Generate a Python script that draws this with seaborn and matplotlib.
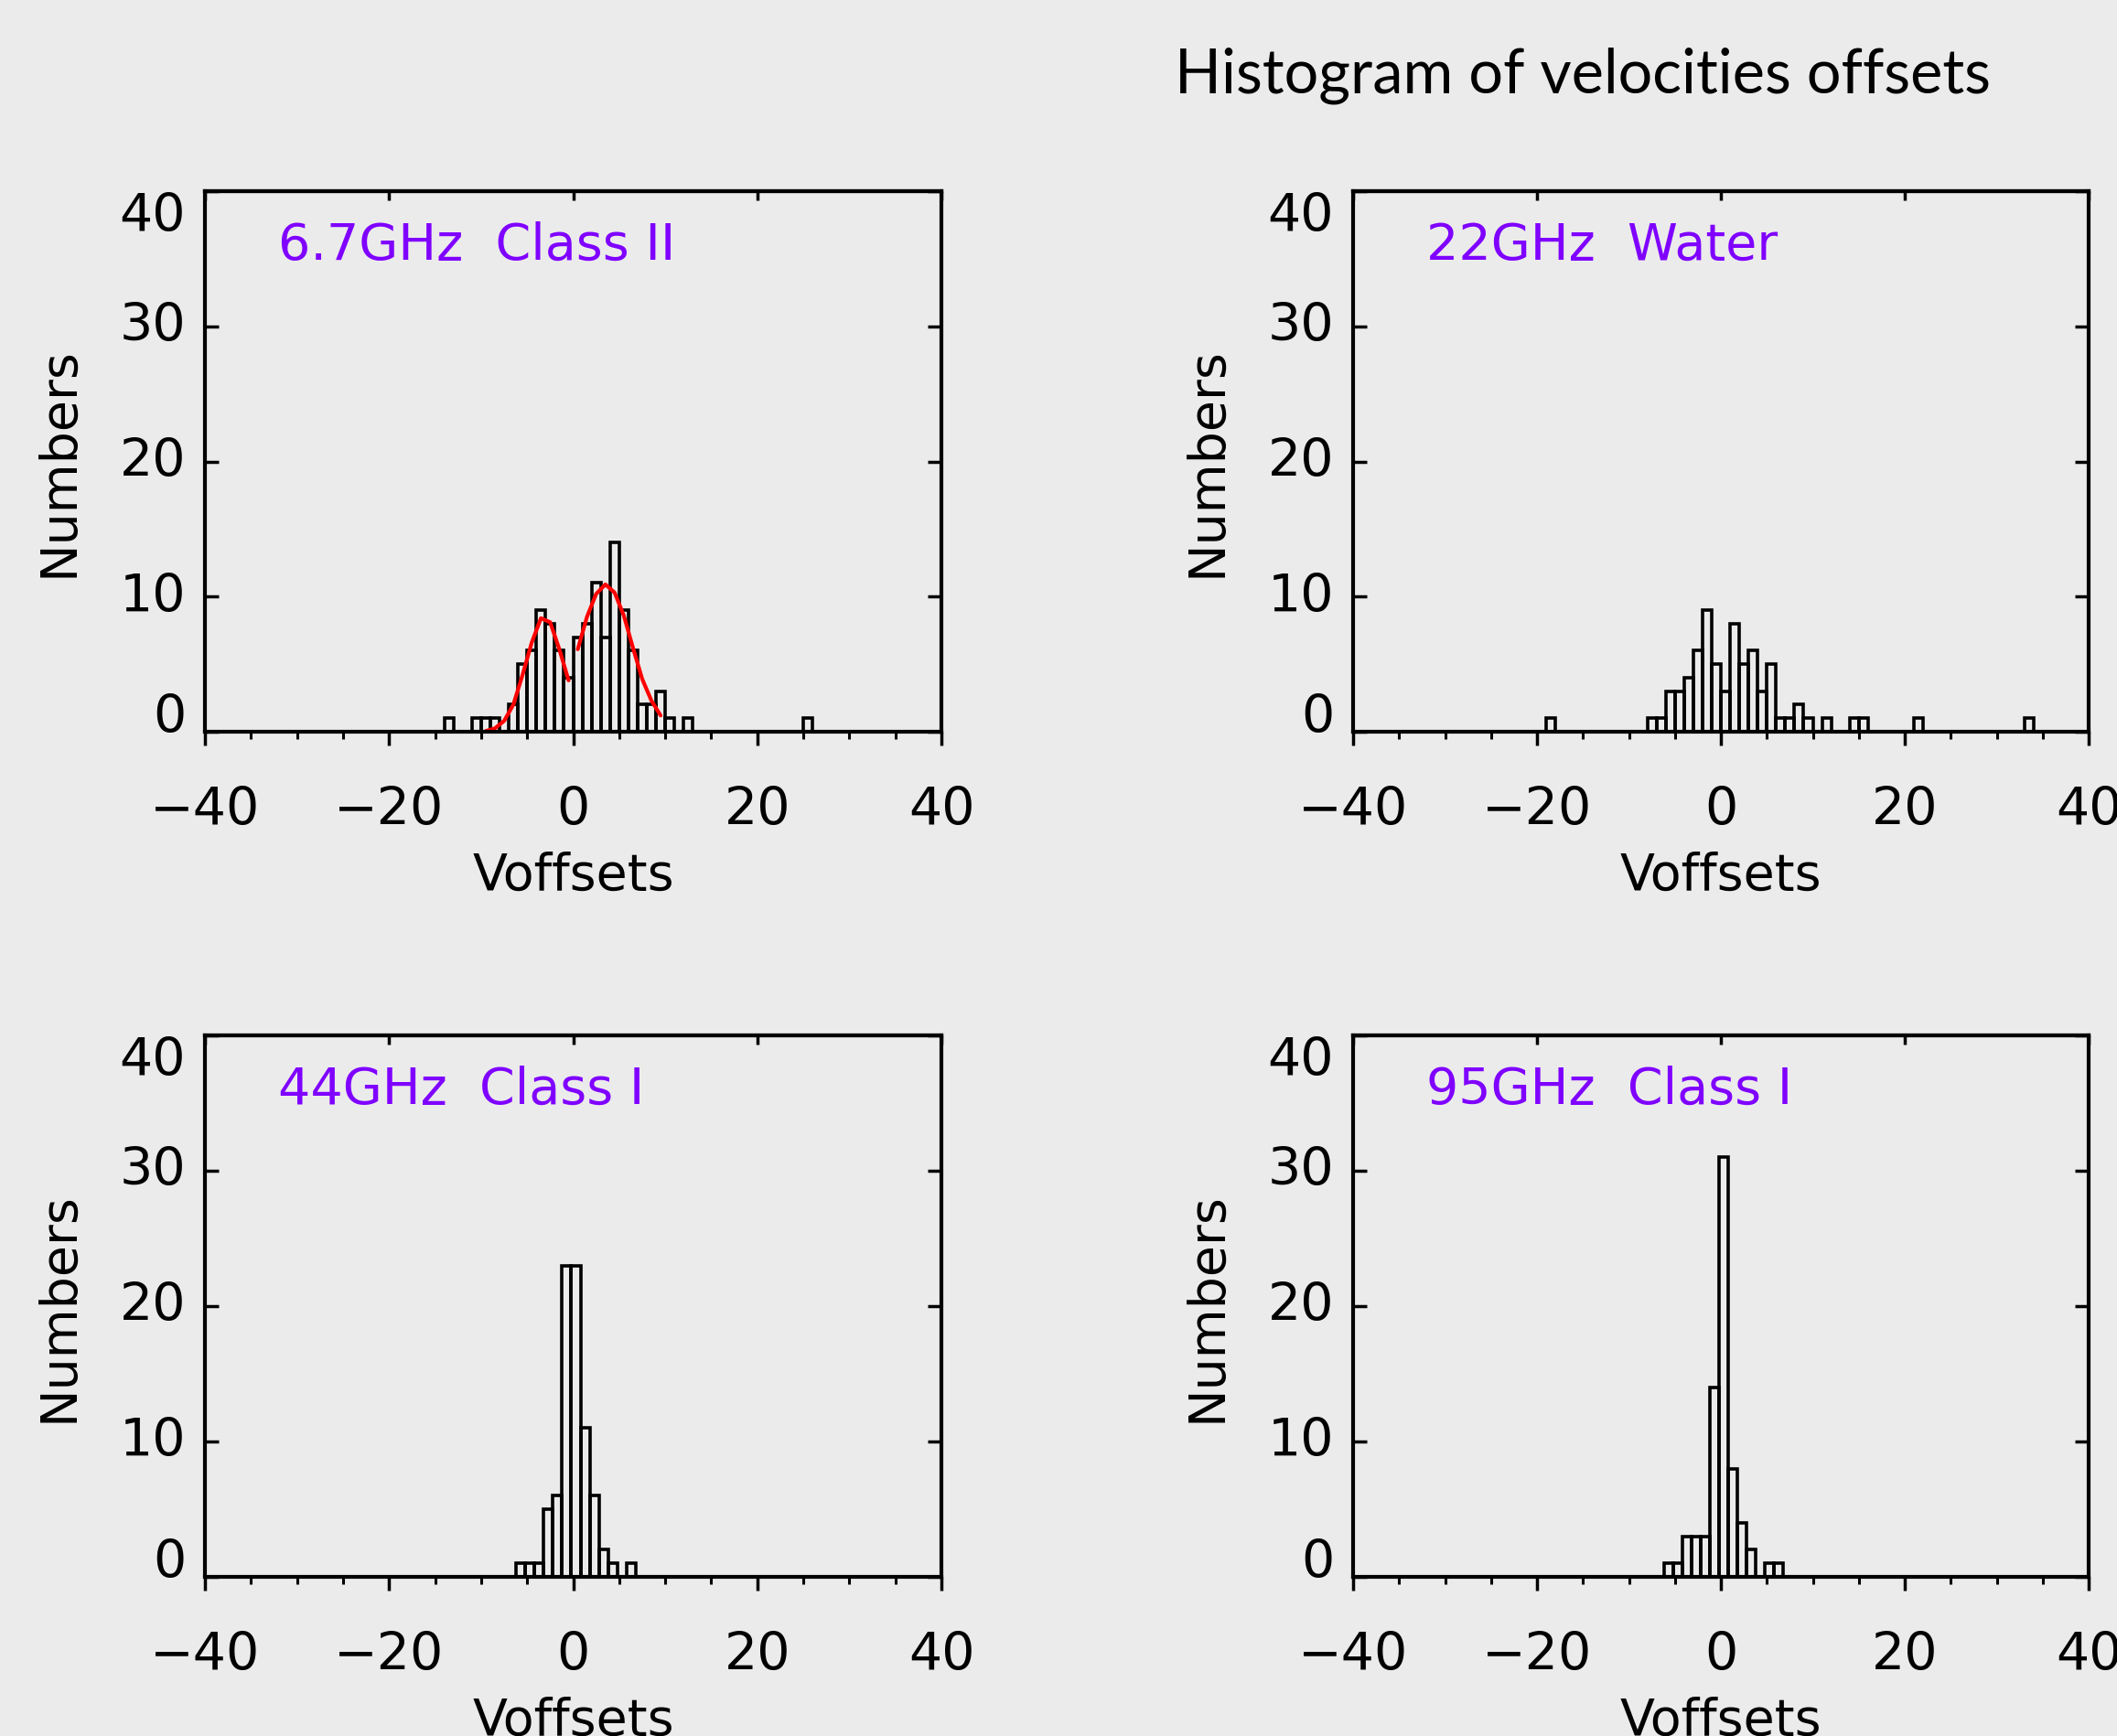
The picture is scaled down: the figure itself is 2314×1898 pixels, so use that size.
import numpy as np
import pandas as pd
import matplotlib
matplotlib.use("Agg")
import matplotlib.pyplot as plt
import seaborn as sns
from matplotlib.ticker import MultipleLocator

# ---------------- data ----------------
title = "Histogram of velocities offsets"
panel_titles = ["6.7GHz  Class II", "22GHz  Water", "44GHz  Class I", "95GHz  Class I"]
x_label = "Voffsets"
y_label = "Numbers"
bin_width = 1.0

# 6.7 GHz Class II : counts per 1 km/s bin, first bin starts at -14
p1_start = -14
p1_counts = [1, 0, 0, 1, 1, 1, 0, 2, 5, 6, 9, 8, 6, 4, 7, 8, 11, 7, 14, 9, 6, 2, 2, 3,
             1, 0, 1, 0, 0, 0, 0, 0, 0, 0, 0, 0, 0, 0, 0, 1]
# 22 GHz water : first bin starts at -19
p2_start = -19
p2_counts = [1, 0, 0, 0, 0, 0, 0, 0, 0, 0, 0,
             1, 1, 3, 3, 4, 6, 9, 5, 3, 8, 5, 6, 3, 5, 1, 1, 2, 1, 0, 1, 0, 0, 1, 1,
             0, 0, 0, 0, 0, 1, 0, 0, 0, 0, 0, 0, 0, 0, 0, 0, 0, 1]
# 44 GHz Class I
p3_start = -6.2
p3_counts = [1, 1, 1, 5, 6, 23, 23, 11, 6, 2, 1, 0, 1]
# 95 GHz Class I
p4_start = -6.2
p4_counts = [1, 1, 3, 3, 3, 14, 31, 8, 4, 2, 0, 1, 1]

# two-component fit drawn on the 6.7 GHz panel (values read at bin centres)
fit1_x = [-9.5, -8.5, -7.5, -6.5, -5.5, -4.5, -3.5, -2.5, -1.5, -0.5]
fit1_y = [0.05, 0.25, 0.8, 2.0, 4.2, 6.6, 8.4, 8.1, 6.1, 3.8]
fit2_x = [0.5, 1.5, 2.5, 3.5, 4.5, 5.5, 6.5, 7.5, 8.5, 9.5]
fit2_y = [6.1, 8.5, 10.2, 10.9, 10.3, 8.6, 6.2, 3.9, 2.3, 1.2]

x_ticks = [-40, -20, 0, 20, 40]
y_ticks = [0, 10, 20, 30, 40]

# ---------------- style ----------------
BG = "#EBEBEB"
PURPLE = "#7F00FF"
sns.set_style("ticks")
plt.rcParams["font.family"] = ["DejaVu Sans"]
plt.rcParams["axes.unicode_minus"] = True
plt.rcParams["text.color"] = "black"
plt.rcParams["axes.labelcolor"] = "black"
plt.rcParams["xtick.color"] = "black"
plt.rcParams["ytick.color"] = "black"
plt.rcParams["xtick.labelcolor"] = "black"
plt.rcParams["ytick.labelcolor"] = "black"

W, H = 2314, 1899
fig = plt.figure(figsize=(W / 100, H / 100), dpi=100, facecolor=BG)

def frac_rect(l, t, r, b):
    return [l / W, 1 - b / H, (r - l) / W, (b - t) / H]

rects = [frac_rect(224, 210, 1029, 801), frac_rect(1479, 210, 2283, 801),
         frac_rect(224, 1133, 1029, 1725), frac_rect(1479, 1133, 2283, 1725)]
starts = [p1_start, p2_start, p3_start, p4_start]
counts_all = [p1_counts, p2_counts, p3_counts, p4_counts]

for i in range(4):
    ax = fig.add_axes(rects[i])
    ax.set_facecolor(BG)
    counts = np.array(counts_all[i], dtype=float)
    nb = len(counts)
    centers = starts[i] + bin_width * (np.arange(nb) + 0.5)
    df = pd.DataFrame({"v": centers, "n": counts})
    sns.histplot(data=df, x="v", weights="n", binwidth=bin_width,
                 binrange=(starts[i], starts[i] + nb * bin_width),
                 element="bars", fill=False, color="black", linewidth=2.6, ax=ax)
    if i == 0:
        sns.lineplot(x=fit1_x, y=fit1_y, color="red", linewidth=3, ax=ax, sort=False)
        sns.lineplot(x=fit2_x, y=fit2_y, color="red", linewidth=3, ax=ax, sort=False)

    ax.set_xlim(-40, 40)
    ax.set_ylim(0, 40)
    for s in ax.spines.values():
        s.set_visible(True)
        s.set_linewidth(3)
        s.set_color("black")

    ax.set_xticks(x_ticks)
    ax.set_xticklabels([("\u2212%d" % -v) if v < 0 else "%d" % v for v in x_ticks])
    ax.xaxis.set_minor_locator(MultipleLocator(5))
    ax.tick_params(axis="x", which="major", direction="out", length=11, width=2.5,
                   bottom=True, top=False, labelsize=41, pad=31, colors="black")
    ax.tick_params(axis="x", which="minor", direction="out", length=6, width=2.2,
                   bottom=True, top=False, colors="black")

    sec = ax.secondary_xaxis("top")
    sec.set_xticks(x_ticks)
    sec.tick_params(direction="in", length=7, width=2.5, labeltop=False, colors="black")
    sec.spines["top"].set_linewidth(3)
    sec.spines["top"].set_color("black")

    ax.set_yticks(y_ticks)
    ax.set_yticklabels(["%d" % v for v in y_ticks])
    ax.tick_params(axis="y", which="major", direction="in", length=11, width=2.5,
                   left=True, right=True, labelsize=41, pad=15, colors="black")
    for lbl, v in zip(ax.get_yticklabels(), y_ticks):
        if v == 0:
            lbl.set_va("baseline")
        elif v == 40:
            lbl.set_va("top")
        else:
            lbl.set_va("center")

    ax.set_xlabel(x_label, fontsize=40, labelpad=12, color="black")
    ax.set_ylabel(y_label, fontsize=40, labelpad=28, color="black")
    ax.text(-32, 35, panel_titles[i], color=PURPLE, fontsize=40, ha="left", va="baseline")

fig.text(1730 / W, 1 - 102 / H, title, ha="center", va="baseline", fontsize=48,
         family=["Lato", "DejaVu Sans"], color="black")

fig.savefig("out.png", dpi=100, facecolor=BG)
